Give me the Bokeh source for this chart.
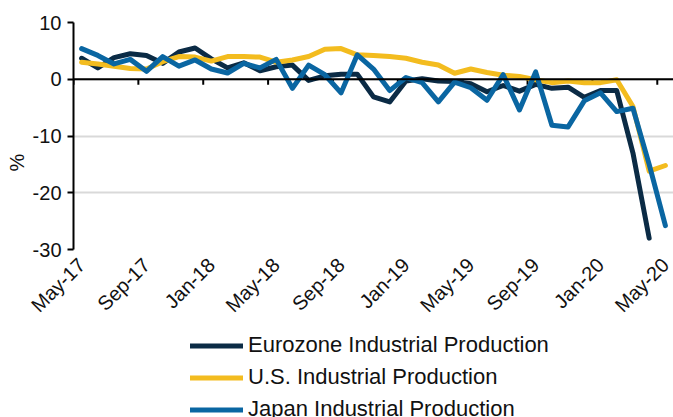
from math import pi
from bokeh.plotting import figure
from bokeh.layouts import column
from bokeh.models import Range1d, FixedTicker, Span, Legend, LegendItem, Title
from bokeh.embed import file_html
from bokeh.resources import INLINE

months = ["May-17", "Jun-17", "Jul-17", "Aug-17", "Sep-17", "Oct-17", "Nov-17", "Dec-17",
          "Jan-18", "Feb-18", "Mar-18", "Apr-18", "May-18", "Jun-18", "Jul-18", "Aug-18",
          "Sep-18", "Oct-18", "Nov-18", "Dec-18", "Jan-19", "Feb-19", "Mar-19", "Apr-19",
          "May-19", "Jun-19", "Jul-19", "Aug-19", "Sep-19", "Oct-19", "Nov-19", "Dec-19",
          "Jan-20", "Feb-20", "Mar-20", "Apr-20", "May-20"]

eurozone = [3.7, 2.0, 3.8, 4.5, 4.2, 2.8, 4.8, 5.5, 3.6, 2.0, 2.9, 1.5,
            2.2, 2.5, -0.2, 0.6, 0.9, 0.9, -3.1, -4.0, -0.3, 0.1, -0.3, -0.4,
            -0.8, -2.2, -1.1, -2.1, -0.9, -1.6, -1.4, -3.2, -2.0, -2.0, -13.0, -28.0]

us = [3.0, 2.7, 2.3, 1.9, 1.8, 3.1, 4.0, 3.9, 3.2, 4.0, 4.0, 3.9,
      3.0, 3.4, 4.0, 5.3, 5.4, 4.3, 4.2, 4.0, 3.7, 3.0, 2.5, 1.05,
      1.8, 1.2, 0.7, 0.5, -0.1, -0.6, -0.3, -0.6, -0.6, -0.1, -4.8, -16.2, -15.2]

japan = [5.4, 4.2, 2.7, 3.5, 1.4, 4.0, 2.3, 3.4, 1.8, 1.1, 2.8, 2.0,
         3.5, -1.6, 2.5, 0.8, -2.4, 4.3, 1.8, -2.0, 0.3, -0.6, -4.0, -0.5,
         -1.5, -3.7, 0.8, -5.4, 1.3, -8.1, -8.4, -3.8, -2.4, -5.7, -5.1, -15.0, -25.8]

series_names = ["Eurozone Industrial Production", "U.S. Industrial Production",
                "Japan Industrial Production"]
series_colors = ["#0b2b45", "#f3bc1f", "#0a66a2"]
y_ticks = [-30, -20, -10, 0, 10]
y_tick_labels = ["-30", "-20", "-10", "0", "10"]
label_step = 4

FONT = "Liberation Sans"
TXT = "#111111"

p = figure(width=673, height=327, output_backend="svg", toolbar_location=None,
           x_range=Range1d(-0.5, len(months) - 0.5), y_range=Range1d(-30, 10),
           min_border_left=73, min_border_right=0, min_border_top=22, min_border_bottom=78)
p.outline_line_color = None

# grid
p.xgrid.grid_line_color = None
p.ygrid.ticker = FixedTicker(ticks=y_ticks)
p.ygrid.grid_line_color = "#d9d9d9"
p.ygrid.grid_line_width = 2

# x axis (labels only, at category centres)
label_idx = list(range(0, len(months), label_step))
p.xaxis.ticker = FixedTicker(ticks=label_idx)
p.xaxis.major_label_overrides = {i: months[i] for i in label_idx}
p.xaxis.major_label_orientation = pi / 4
p.xaxis.axis_line_color = None
p.xaxis.major_tick_line_color = None
p.xaxis.minor_tick_line_color = None
p.xaxis.major_tick_out = 0
p.xaxis.major_label_standoff = 12
p.xaxis.major_label_text_font = FONT
p.xaxis.major_label_text_font_size = "20px"
p.xaxis.major_label_text_color = TXT

# y axis
p.yaxis.ticker = FixedTicker(ticks=y_ticks)
p.yaxis.major_label_overrides = dict(zip(y_ticks, y_tick_labels))
p.yaxis.axis_line_color = "black"
p.yaxis.axis_line_width = 2
p.yaxis.major_tick_line_color = "black"
p.yaxis.major_tick_line_width = 2
p.yaxis.major_tick_out = 6
p.yaxis.major_tick_in = 0
p.yaxis.minor_tick_line_color = None
p.yaxis.major_label_standoff = 6
p.yaxis.major_label_text_font = FONT
p.yaxis.major_label_text_font_size = "20px"
p.yaxis.major_label_text_color = TXT

p.add_layout(Title(text="%", align="left", offset=78, text_font=FONT,
                   text_font_size="20px", text_font_style="normal",
                   text_color=TXT, standoff=4), "left")

# zero line with category boundary ticks
p.add_layout(Span(location=0, dimension="width", line_color="black", line_width=2))
bounds = [i - 0.5 for i in range(0, len(months), label_step)]
p.segment(x0=bounds, y0=[0] * len(bounds), x1=bounds, y1=[-0.95] * len(bounds),
          line_color="black", line_width=2)

for vals, col in zip([eurozone, us, japan], series_colors):
    p.line(list(range(len(vals))), vals, line_color=col, line_width=5,
           line_join="round", line_cap="round")

# legend panel below the chart
lg = figure(width=673, height=90, output_backend="svg", toolbar_location=None,
            x_range=Range1d(0, 1), y_range=Range1d(0, 1),
            min_border_left=0, min_border_right=0, min_border_top=0, min_border_bottom=0)
lg.axis.visible = False
lg.grid.visible = False
lg.outline_line_color = None
items = []
for n, col in zip(series_names, series_colors):
    # off-screen swatch renderer (only its style is used by the legend)
    r = lg.line(x=[-5, -4], y=[-5, -4], line_color=col, line_width=5, line_cap="round")
    items.append(LegendItem(label=n, renderers=[r]))
legend = Legend(items=items, location=(117, -5), orientation="vertical",
                label_text_font=FONT, label_text_font_size="22px", label_text_color=TXT,
                glyph_width=53, glyph_height=25, label_height=25, label_standoff=5,
                spacing=6, padding=0, margin=0,
                border_line_color=None, background_fill_alpha=0)
lg.add_layout(legend, "center")

layout = column(p, lg, spacing=0)
open("out.html", "w").write(file_html(layout, INLINE))
